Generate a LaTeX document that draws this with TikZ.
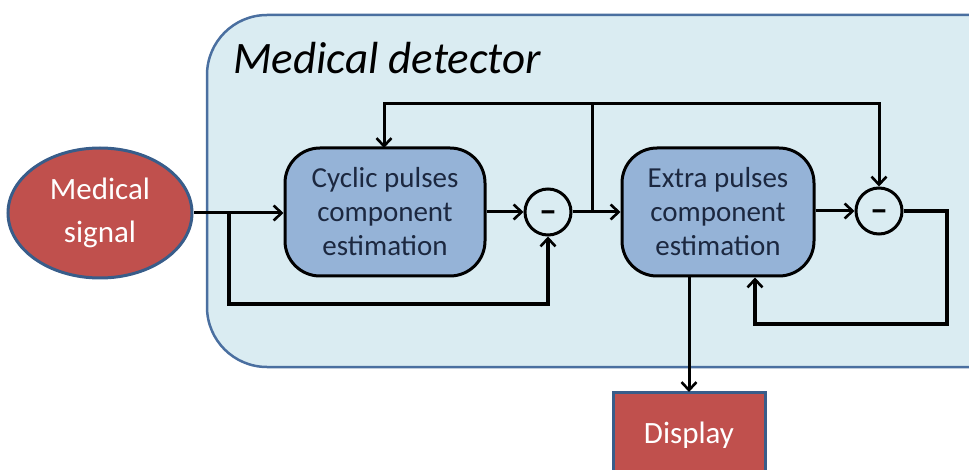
\documentclass[tikz,border=0pt]{standalone}
\usepackage{fontspec}
\setmainfont{Carlito}
\usetikzlibrary{arrows.meta,shapes.geometric,calc}
\definecolor{panelfill}{HTML}{DAECF2}
\definecolor{panelline}{HTML}{4A6FA0}
\definecolor{boxfill}{HTML}{95B3D7}
\definecolor{redfill}{HTML}{C0504D}
\definecolor{redline}{HTML}{385D8A}
\definecolor{boxtext}{HTML}{1C2840}
\tikzset{
  conn/.style={line width=3pt,-{Straight Barb[length=8pt,width=15pt,line width=2.6pt]}},
  thickconn/.style={line width=4.4pt,-{Straight Barb[length=8pt,width=15pt,line width=2.6pt]}},
  plain/.style={line width=3pt},
  estbox/.style={draw=black,line width=3pt,fill=boxfill,rounded corners=35pt,align=center,
    text=boxtext,font=\fontsize{29}{34}\selectfont,inner sep=0pt},
  sumnode/.style={circle,draw=black,line width=3pt,fill=panelfill,minimum size=46pt,inner sep=0pt},
  minus/.style={font=\fontsize{36}{36}\bfseries\selectfont,inner sep=0pt,anchor=center},
  redshape/.style={draw=redline,line width=3pt,fill=redfill,text=white,align=center,
    font=\fontsize{31}{43}\selectfont,inner sep=0pt}
}
\begin{document}
\begin{tikzpicture}[x=1pt,y=-1pt]
\useasboundingbox (0,0) rectangle (969,470);
\begin{scope}
\clip (0,0) rectangle (969,470);
% panel
\draw[fill=panelfill,draw=panelline,line width=2.5pt,rounded corners=60pt] (207,15) rectangle (1040,367);
\node[anchor=base west,font=\fontsize{45}{45}\itshape\selectfont,inner sep=0pt] (title) at (233,74) {Medical detector};
% display
\draw[redshape] (613,392) rectangle (765,500);
\node[font=\fontsize{31}{34}\selectfont,text=white,inner sep=0pt] (disp) at (689,435) {Display};
\coordinate (disptop) at (689,392);
\end{scope}
% signal
\node[redshape,ellipse,minimum width=184pt,minimum height=130pt] (sig) at (100,213) {Medical\\signal};
% boxes
\node[estbox,minimum width=200pt,minimum height=128pt] (cyc) at (385,212) {Cyclic pulses\\component\\estimation};
\node[estbox,minimum width=192pt,minimum height=128pt] (ext) at (718,212) {Extra pulses\\component\\estimation};
\node[sumnode] (s1) at (548,212) {};
\node[sumnode] (s2) at (879,211) {};
\node[minus] (m1) at ([yshift=-5pt]s1.center) {–};
\node[minus] (m2) at ([yshift=-5pt]s2.center) {–};
% coordinates
\coordinate (b1) at (229,213);
\coordinate (b2) at (592,212);
\coordinate (top) at (592,104);
\coordinate (low) at (548,304);
\coordinate (r1) at (947,211);
\coordinate (r2) at (947,324);
\coordinate (r3) at (755,324);
% connectors
\draw[conn] (sig.east |- b1) -- (cyc.west |- b1);
\draw[thickconn] (b1) -- (229,304) -- (low) -- (s1.south);
\draw[conn] (cyc.east |- s1) -- (s1.west);
\draw[conn] (s1.east) -- (ext.west |- s1);
\draw[plain] (b2) -- (top);
\draw[conn] (top) -- (384,104) -- (384,148);
\draw[conn] (top) -- (879,104) -- (s2.north);
\draw[conn] (ext.east |- s2) -- (s2.west);
\draw[thickconn] (s2.east) -- (r1) -- (r2) -- (r3) -- (r3 |- ext.south);
\draw[conn] (ext.south -| disptop) -- (disptop);
\end{tikzpicture}
\end{document}
